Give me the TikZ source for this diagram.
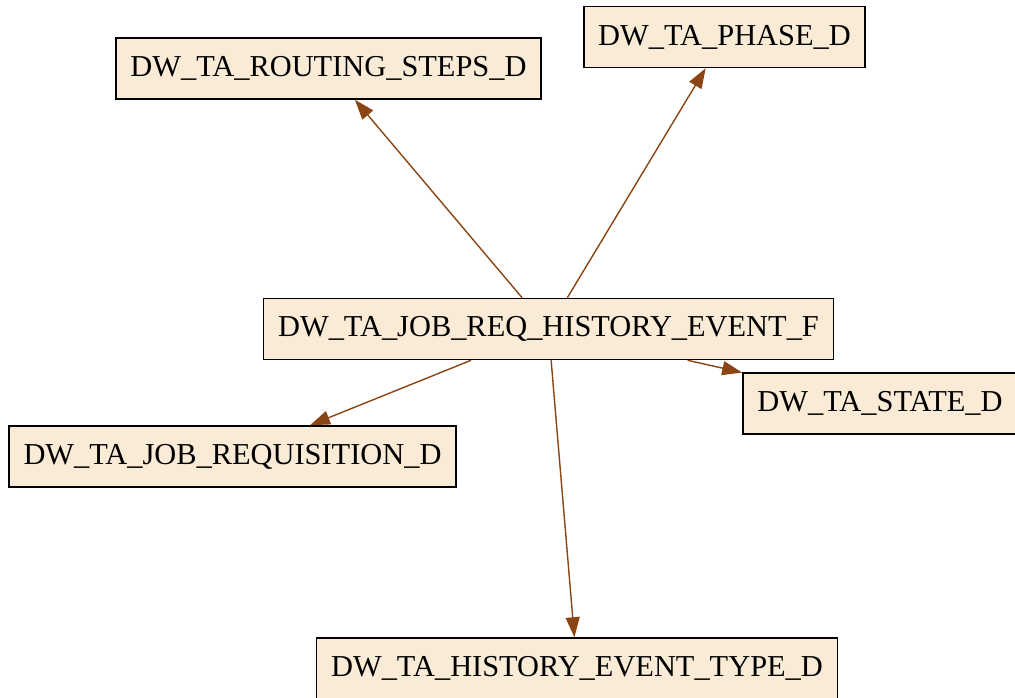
\documentclass[tikz,border=0pt]{standalone}
\usepackage{fontspec}
\setmainfont{Liberation Serif}
\usepackage{xcolor}
\usepackage{tikz}
\usetikzlibrary{arrows.meta}

\definecolor{tblfill}{HTML}{FAEBD7}
\definecolor{fkline}{HTML}{8B4513}

\begin{document}
\begin{tikzpicture}[
  x=0.02cm, y=-0.02cm,
  tbl/.style={
    draw,
    fill=tblfill,
    line width=0.9pt,
    align=center,
    minimum height=1.22cm,
    inner xsep=0.29cm,
    inner ysep=0pt,
    font=\fontsize{17.3}{20}\selectfont
  },
  fk/.style={
    draw=fkline,
    line width=0.8pt,
    -{Triangle[length=0.4cm,width=0.28cm,fill=fkline]}
  }
]
\useasboundingbox (0,0) rectangle (1015,697);
\node[tbl] (routing) at (328.5,68.5) {DW\_TA\_ROUTING\_STEPS\_D};
\node[tbl] (phase) at (724.5,37) {DW\_TA\_PHASE\_D};
\node[tbl] (fact) at (548.5,329) {DW\_TA\_JOB\_REQ\_HISTORY\_EVENT\_F};
\node[tbl] (state) at (880,403.5) {DW\_TA\_STATE\_D};
\node[tbl] (jobreq) at (232.5,456.5) {DW\_TA\_JOB\_REQUISITION\_D};
\node[tbl] (evtype) at (577,668.5) {DW\_TA\_HISTORY\_EVENT\_TYPE\_D};
\draw[fk] (fact) -- (routing);
\draw[fk] (fact) -- (phase);
\draw[fk] (fact) -- (state);
\draw[fk] (fact) -- (jobreq);
\draw[fk] (fact) -- (evtype);
\end{tikzpicture}
\end{document}
